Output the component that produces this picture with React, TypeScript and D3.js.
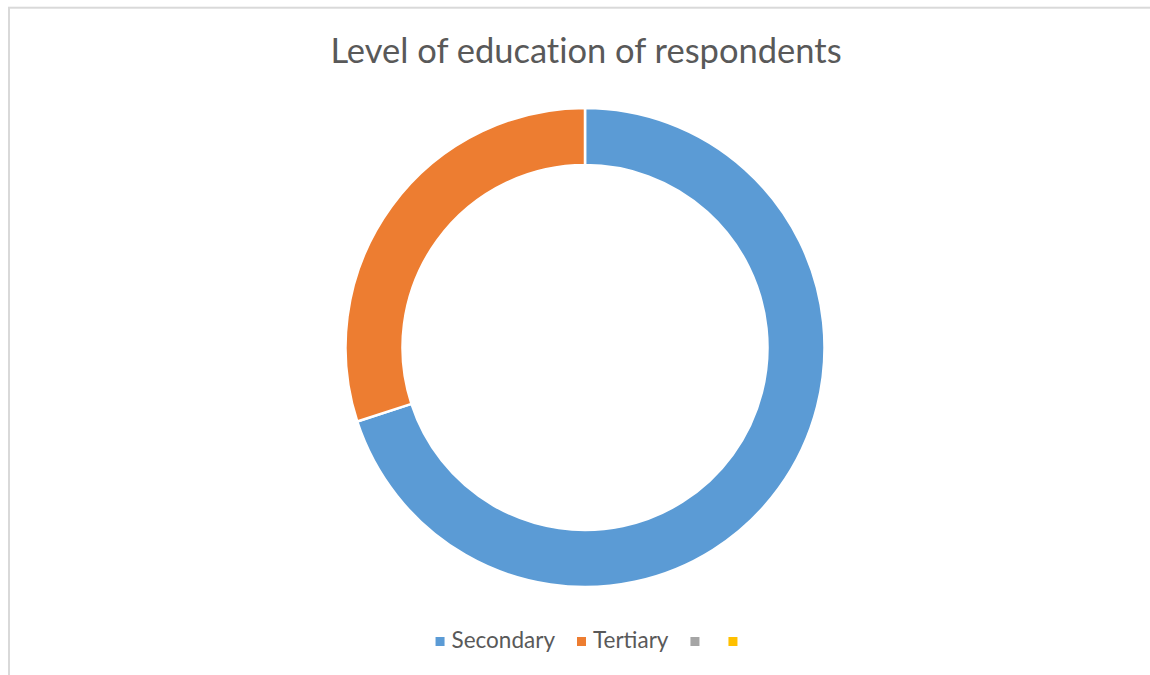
import React, { useEffect, useRef } from "react";
import * as d3 from "d3";

const title = "Level of education of respondents";
const categories = ["Secondary", "Tertiary", "", ""];
const values = [70, 30, 0, 0];
const colors = ["#5B9BD5", "#ED7D31", "#A5A5A5", "#FFC000"];

const W = 1150;
const H = 675;

export default function App() {
  const ref = useRef<SVGSVGElement | null>(null);

  useEffect(() => {
    const svg = d3.select(ref.current);
    svg.selectAll("*").remove();

    svg
      .append("rect")
      .attr("x", 9)
      .attr("y", 7.7)
      .attr("width", 1300)
      .attr("height", 800)
      .attr("fill", "#ffffff")
      .attr("stroke", "#d9d9d9")
      .attr("stroke-width", 2);

    svg
      .append("text")
      .attr("x", 586)
      .attr("y", 63)
      .attr("text-anchor", "middle")
      .attr("font-family", "Lato, 'Open Sans', sans-serif")
      .attr("font-size", 34.5)
      .attr("fill", "#595959")
      .style("font-variant-ligatures", "none")
      .style("font-feature-settings", "'liga' 0, 'clig' 0")
      .text(title);

    const cx = 585;
    const cy = 347.5;
    const R = 239.5;
    const r = 182.5;

    const data = categories.map((c, i) => ({ name: c, value: values[i], color: colors[i] }));
    const pie = d3
      .pie<any>()
      .sort(null)
      .value((d: any) => d.value);
    const arc = d3.arc<any>().innerRadius(r).outerRadius(R);

    const g = svg.append("g").attr("transform", `translate(${cx},${cy})`);
    g.selectAll("path")
      .data(pie(data).filter((d) => d.data.value > 0))
      .join("path")
      .attr("d", arc as any)
      .attr("fill", (d: any) => d.data.color)
      .attr("stroke", "#ffffff")
      .attr("stroke-width", 2.5)
      .attr("stroke-linejoin", "round");

    // legend
    const lg = svg.append("g");
    const marker = 9;
    const gapMT = 7;
    const gapItem = 22;
    let x = 0;
    data.forEach((d) => {
      const item = lg.append("g");
      item
        .append("rect")
        .attr("x", x)
        .attr("y", 637)
        .attr("width", marker)
        .attr("height", marker)
        .attr("fill", d.color);
      const t = item
        .append("text")
        .attr("x", x + marker + gapMT)
        .attr("y", 648)
        .attr("font-family", "Lato, 'Open Sans', sans-serif")
        .attr("font-size", 22.5)
        .attr("fill", "#595959")
        .text(d.name);
      const tw = d.name ? (t.node() as SVGTextElement).getComputedTextLength() : 0;
      x += marker + gapMT + tw + gapItem;
    });
    const total = x - gapItem - gapMT;
    lg.attr("transform", `translate(${cx + 1.5 - total / 2},0)`);
  }, []);

  return (
    <svg
      ref={ref}
      width={W}
      height={H}
      style={{ position: "absolute", left: 0, top: 0, display: "block", background: "#ffffff" }}
    />
  );
}
